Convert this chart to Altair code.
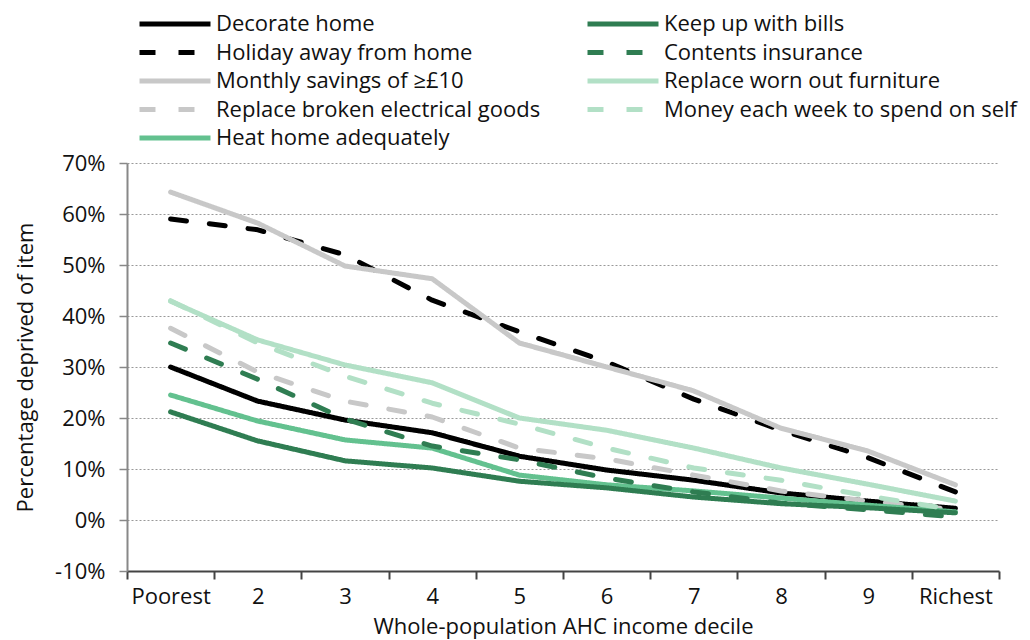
import altair as alt
import pandas as pd

deciles = ["Poorest", "2", "3", "4", "5", "6", "7", "8", "9", "Richest"]

decorate = [30.0, 23.3, 19.6, 17.1, 12.5, 9.8, 7.8, 5.3, 3.7, 2.3]
holiday = [59.0, 56.9, 52.0, 43.1, 36.9, 31.0, 23.7, 17.6, 12.2, 5.5]
savings = [64.3, 58.2, 49.8, 47.3, 34.7, 30.0, 25.3, 18.0, 13.5, 6.9]
electrical = [37.6, 29.0, 23.3, 20.2, 14.1, 12.0, 8.8, 5.7, 3.7, 2.0]
heat = [24.5, 19.4, 15.7, 14.1, 8.8, 6.9, 5.7, 4.3, 2.9, 1.6]
bills = [21.2, 15.5, 11.6, 10.2, 7.6, 6.3, 4.5, 3.2, 2.4, 1.4]
contents = [34.7, 27.6, 19.8, 14.5, 11.8, 8.2, 5.5, 3.3, 2.0, 0.6]
furniture = [42.9, 35.3, 30.4, 26.9, 20.0, 17.6, 14.1, 10.2, 7.0, 3.7]
money = [43.0, 34.7, 28.2, 22.9, 18.8, 14.1, 10.2, 7.8, 4.7, 2.0]

# drawing order (also the legend order, filled column by column)
series = [
    ("Decorate home", decorate),
    ("Holiday away from home", holiday),
    ("Monthly savings of \u2265\u00a310", savings),
    ("Replace broken electrical goods", electrical),
    ("Heat home adequately", heat),
    ("Keep up with bills", bills),
    ("Contents insurance", contents),
    ("Replace worn out furniture", furniture),
    ("Money each week to spend on self", money),
]
names = [s[0] for s in series]
colors = ["#000000", "#000000", "#c8c8c8", "#c8c8c8", "#63c18f",
          "#2f7d52", "#2f7d52", "#b2e0c6", "#b2e0c6"]
dashes = [[1, 0], [16, 23], [1, 0], [16, 23], [1, 0],
          [1, 0], [16, 23], [1, 0], [16, 23]]

rows = []
for k, (name, vals) in enumerate(series):
    for i, (d, v) in enumerate(zip(deciles, vals)):
        rows.append({"item": name, "decile": d, "value": v, "order": k, "idx": i})
df = pd.DataFrame(rows)

FONT = "Open Sans"
FS = 22

chart = alt.Chart(df).mark_line(strokeWidth=5, strokeCap="round", strokeJoin="round").encode(
    x=alt.X("decile:N", sort=deciles,
            scale=alt.Scale(type="band", paddingInner=0, paddingOuter=0),
            axis=alt.Axis(title="Whole-population AHC income decile", tickBand="extent",
                          labelAngle=0, grid=False, domainColor="#444", tickColor="#444",
                          domainWidth=2, tickWidth=2, tickSize=8, labelPadding=7,
                          titlePadding=9, labelFontSize=FS, titleFontSize=FS,
                          labelFont=FONT, titleFont=FONT, titleFontWeight="normal",
                          labelColor="#111", titleColor="#111")),
    y=alt.Y("value:Q", scale=alt.Scale(domain=[-10, 70], nice=False, zero=False),
            axis=alt.Axis(title="Percentage deprived of item", values=list(range(-10, 71, 10)),
                          labelExpr="datum.value + '%'", grid=True, gridDash=[2, 2],
                          gridColor="#999", gridWidth=1, domainColor="#888", domainWidth=2,
                          tickColor="#888", tickWidth=1.5, tickSize=8, labelPadding=14,
                          titlePadding=17, labelFontSize=FS, titleFontSize=FS,
                          labelFont=FONT, titleFont=FONT, titleFontWeight="normal",
                          labelColor="#111", titleColor="#111")),
    color=alt.Color("item:N",
                    scale=alt.Scale(domain=names, range=colors),
                    legend=alt.Legend(title=None, orient="none", legendX=10, legendY=-152,
                                      columns=2, columnPadding=44, rowPadding=2.5,
                                      clipHeight=26, symbolType="stroke", symbolSize=5041,
                                      symbolStrokeWidth=5, labelOffset=3, labelFontSize=FS,
                                      labelFont=FONT, labelColor="#111", labelLimit=500)),
    strokeDash=alt.StrokeDash("item:N", scale=alt.Scale(domain=names, range=dashes),
                              legend=None),
    order=alt.Order("idx:Q"),
    detail="order:N",
).properties(
    width=872, height=408,
    padding={"left": 6, "top": 3, "right": 5, "bottom": 3},
).configure_view(stroke=None)

chart.save("out.html", embed_options={"renderer": "svg", "actions": False})
